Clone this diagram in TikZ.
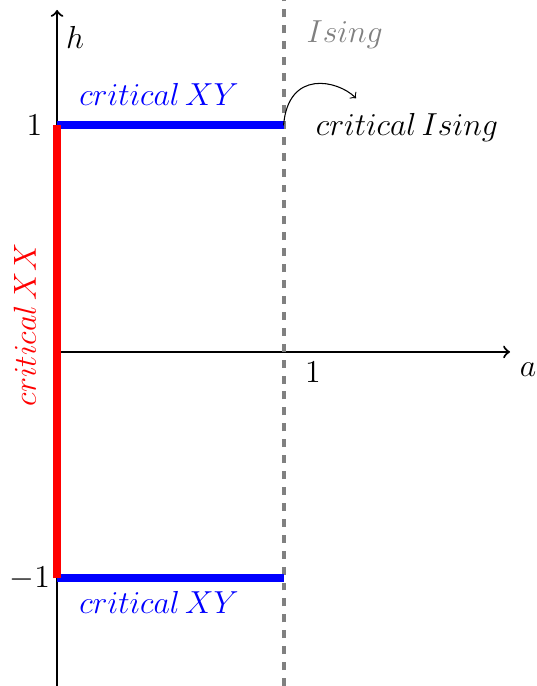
\documentclass[tikz,border=0pt]{standalone}
\usepackage{xcolor}
\usepackage{tikz}
\usetikzlibrary{positioning}
\definecolor{isinggray}{RGB}{128,128,128}
\tikzset{
  axisline/.style={->, thick},
  xyline/.style={blue, line width=3pt},
  xxline/.style={red, line width=2.8pt},
  isingline/.style={isinggray, dashed, line width=1.5pt},
}

\begin{document}
\begin{tikzpicture}[x=3cm, y=3cm, font=\large]
  \useasboundingbox (-0.252,-1.475) rectangle (2.115,1.554);
  % corners of the critical lines
  \coordinate (O) at (0,0);
  \coordinate (htop) at (0,1.51);
  \coordinate (hbot) at (0,-1.475);
  \coordinate (aend) at (2.0,0);
  \coordinate (dtop) at (1,1.554);
  \coordinate (dbot) at (1,-1.475);
  \coordinate (A) at (0,1);
  \coordinate (B) at (1,1);
  \coordinate (C) at (0,-1);
  \coordinate (D) at (1,-1);
  \coordinate (arrowend) at (1.32,1.12);
  % axes
  \draw[axisline] (hbot) -- (htop);
  \draw[axisline] (O) -- (aend);
  \draw[isingline] (dbot) -- (dtop);
  \node (hlab) at (0.08,1.39) {$h$};
  \node (alab) at (2.08,-0.08) {$a$};
  \node (aone) at (1.13,-0.09) {$1$};
  \node (hone) at (-0.1,1) {$1$};
  \node (hmone) at (-0.12,-1) {$-1$};
  % critical lines
  \draw[xyline] (A) -- (B);
  \draw[xyline] (C) -- (D);
  \draw[xxline] (C) -- (A);
  \node[text=blue] (xytop) at (0.45,1.135) {$critical\,XY$};
  \node[text=blue] (xybot) at (0.45,-1.104) {$critical\,XY$};
  \node[text=red, rotate=90] (xxlab) at (-0.142,0.12) {$critical\,XX$};
  \node[text=isinggray] (isinglab) at (1.27,1.40) {$Ising$};
  \node (critising) at (1.545,0.99) {$critical\,Ising$};
  \draw[->] (B) .. controls (1.02,1.25) and (1.24,1.20) .. (arrowend);
\end{tikzpicture}
\end{document}
